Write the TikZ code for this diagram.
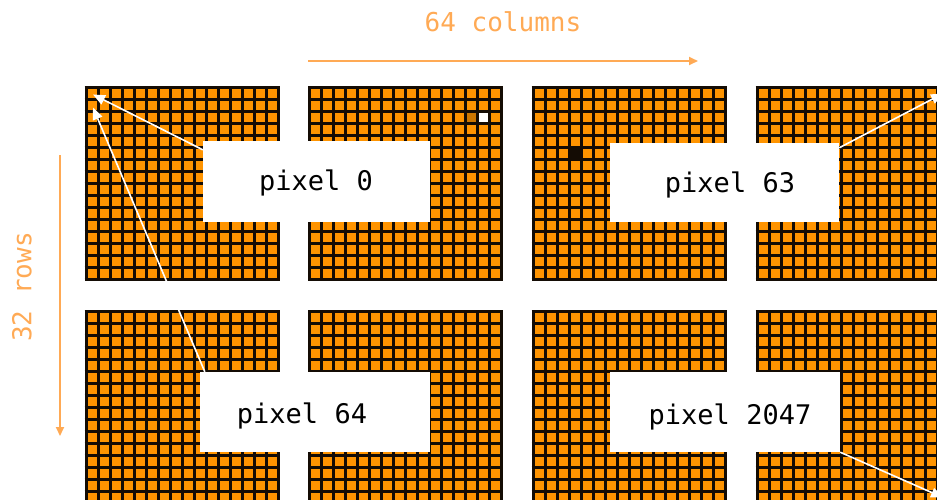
\documentclass[tikz,border=0pt]{standalone}
\usepackage{fontspec}
\setmonofont{DejaVu Sans Mono}
\usetikzlibrary{calc,arrows.meta}
\definecolor{cellorange}{RGB}{255,148,0}
\definecolor{gridink}{RGB}{20,12,4}
\definecolor{axisorange}{RGB}{255,170,85}
\begin{document}
\begin{tikzpicture}[x=1pt,y=-1pt,
  gridline/.style={gridink, line width=3pt},
  labelbox/.style={fill=white, draw=none, rectangle, inner sep=0pt},
  labeltext/.style={font=\fontsize{27}{31}\selectfont\ttfamily, text=black, inner sep=0pt},
  axislabel/.style={font=\fontsize{26}{30}\selectfont\ttfamily, text=axisorange, inner sep=0pt},
  axisarrow/.style={axisorange, line width=1.8pt, -{Triangle[length=9pt,width=8pt]}},
  pointer/.style={white, line width=1.6pt, -{Triangle[length=12pt,width=10pt]}}]
\useasboundingbox (0,0) rectangle (937,499);
\clip (0,0) rectangle (937,499);
\fill[white] (0,0) rectangle (937,499);

% eight 16x16 pixel panels (the rightmost column and bottom edge run off the page)
\foreach \bx in {84.5,308,531.5,755.5} {
  \foreach \by in {86,310} {
    \fill[cellorange] (\bx,\by) rectangle ++(195,195);
    \foreach \i in {0,...,16} {
      \draw[gridline] ({\bx+1.5+12*\i},\by) -- ++(0,195);
      \draw[gridline] (\bx,{\by+1.5+12*\i}) -- ++(195,0);
    }
  }
}

% a few cells that stand out
\fill[white] ({308+3+14*12},{86+3+2*12}) rectangle ++(9,9);
\fill[cellorange!80!black] ({308+3+13*12},{86+3+2*12}) rectangle ++(9,9);
\fill[gridink] ({531.5+3+3*12},{86+3+5*12}) rectangle ++(9,9);

% targets of the pointers: pixel 0, 64, 63 and 2047
\coordinate (p0) at ({84.5+1.5+6+1},{86+1.5+6+1});
\coordinate (p64) at ({84.5+1.5+6+1},{86+1.5+18+2});
\coordinate (p63) at ({755.5+1.5+15*12+6},{86+1.5+6});
\coordinate (p2047) at ({755.5+1.5+15*12+6},{310+1.5+15*12+6});

% label boxes
\node[labelbox, minimum width=227pt, minimum height=81pt] (b0) at (316.5,181.5) {};
\node[labelbox, minimum width=229pt, minimum height=79pt] (b63) at (724.5,182.5) {};
\node[labelbox, minimum width=230pt, minimum height=80pt] (b64) at (315,412) {};
\node[labelbox, minimum width=230pt, minimum height=80pt] (b2047) at (725,412) {};
\node[labeltext] (t0) at (316,183) {pixel 0};
\node[labeltext] (t63) at (730,185) {pixel 63};
\node[labeltext] (t64) at (302,416) {pixel 64};
\node[labeltext] (t2047) at (730,417) {pixel 2047};

% pointers from the labels to their pixels
\draw[pointer] ($(b0.north west)+(0,9)$) -- (p0);
\draw[pointer] ($(b64.north west)+(5,0)$) -- (p64);
\draw[pointer] ($(b63.north east)+(0,5)$) -- (p63);
\draw[pointer] (b2047.south east) -- (p2047);

% axes
\node[axislabel] (cols) at (503,22) {64 columns};
\coordinate (c0) at (308,61);
\coordinate (c1) at (698,61);
\draw[axisarrow] (c0) -- (c1);
\node[axislabel, rotate=90] (rows) at (22,287) {32 rows};
\coordinate (r0) at (60,155);
\coordinate (r1) at (60,436);
\draw[axisarrow] (r0) -- (r1);
\end{tikzpicture}
\end{document}
